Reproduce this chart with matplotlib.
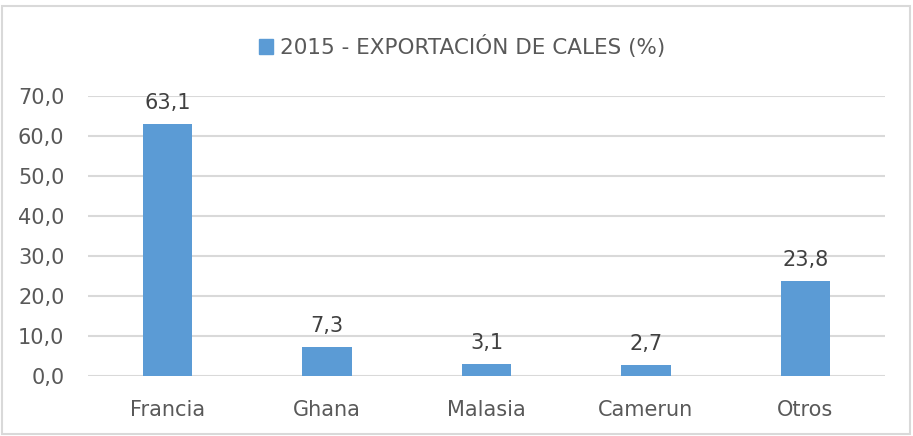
import matplotlib.pyplot as plt
from matplotlib.patches import Rectangle, Patch

paises = ['Francia', 'Ghana', 'Malasia', 'Camerun', 'Otros']
valores = [63.1, 7.3, 3.1, 2.7, 23.8]
ticks_y = [0, 10, 20, 30, 40, 50, 60, 70]
titulo = '2015 - EXPORTACIÓN DE CALES (%)'

azul = '#5B9BD5'
gris_txt = '#595959'

plt.rcParams['font.family'] = ['DejaVu Sans']
fig = plt.figure(figsize=(9.13, 4.36), dpi=100)
ax = fig.add_axes([0.0964, 0.1376, 0.8729, 0.6411])

x = range(len(paises))
bars = ax.bar(x, valores, width=0.31, color=azul, zorder=3)

# etiquetas de datos encima de cada barra
for b, v in zip(bars, valores):
    ax.annotate(('%.1f' % v).replace('.', ','),
                xy=(b.get_x() + b.get_width() / 2, b.get_height()),
                xytext=(0, 8), textcoords='offset points',
                ha='center', va='bottom', fontsize=15, color='#404040')

ax.set_xlim(-0.5, len(paises) - 0.5)
ax.set_ylim(0, 70)
ax.set_yticks(ticks_y)
ax.set_yticklabels([('%.1f' % t).replace('.', ',') for t in ticks_y])
ax.set_xticks(list(x))
ax.set_xticklabels(paises)
ax.tick_params(axis='both', length=0, labelsize=15, colors=gris_txt)
ax.tick_params(axis='y', pad=17)
ax.tick_params(axis='x', pad=17)
ax.grid(axis='y', color='#D9D9D9', linewidth=1.5, zorder=0)
for s in ax.spines.values():
    s.set_visible(False)

# leyenda arriba
fig.legend(handles=[Patch(color=azul)], labels=[titulo], loc='center',
           bbox_to_anchor=(0.506, 0.893), frameon=False, fontsize=15.5,
           labelcolor=gris_txt, handlelength=0.65, handleheight=0.65,
           handletextpad=0.35)

# borde del gráfico
fig.patches.append(Rectangle((0.002, 0.004), 0.995, 0.982, transform=fig.transFigure,
                             fill=False, edgecolor='#D9D9D9', linewidth=1.5))

plt.savefig('out.png', dpi=100)
